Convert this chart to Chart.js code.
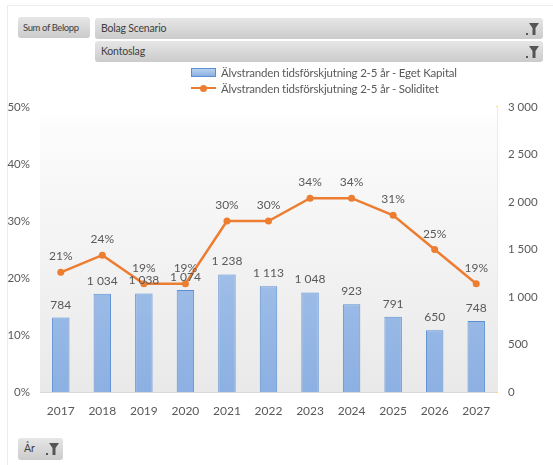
<!DOCTYPE html>
<html>
<head>
<meta charset="utf-8">
<script src="https://cdn.jsdelivr.net/npm/chart.js@4.4.1/dist/chart.umd.min.js"></script>
<style>
  body { margin: 0; background: #fff; font-family: Lato, "Open Sans", sans-serif; }
  #wrap { position: relative; width: 553px; height: 465px; overflow: hidden; }
  #grafico { position: absolute; left: 0; top: 0; }
  .ram { position: absolute; border-left: 1px solid #ececec; left: 7px; top: 5px; width: 546px; height: 470px; border-top: 1px solid #ececec; }
  .knapp {
    position: absolute; box-sizing: border-box; border-radius: 3px;
    background: linear-gradient(#e6e6e6, #cbcbcb); color: #3f3f3f;
    font-size: 10.5px; line-height: 21px; padding-left: 6px; white-space: nowrap; letter-spacing: -0.2px;
  }
  .knapp svg { position: absolute; right: 4px; top: 4px; }
  #legend { position: absolute; left: 191px; top: 65px; font-size: 11.5px; color: #595959; letter-spacing: -0.2px; }
  #legend div { height: 16px; line-height: 16px; position: relative; padding-left: 30px; }
  #legend span.ruta { position: absolute; left: 0; top: 3px; width: 25px; height: 9px; box-sizing: border-box; }
</style>
</head>
<body>
<div id="wrap">
  <div class="ram"></div>
  <canvas id="grafico" width="553" height="465"></canvas>
  <div class="knapp" style="left:18px;top:17px;width:72px;height:21px;font-size:9.5px;padding-left:5px;letter-spacing:-0.4px;">Sum of Belopp</div>
  <div class="knapp" style="left:95px;top:18px;width:448px;height:21px;">Bolag Scenario<svg width="13" height="14"><rect x="0" y="11" width="2" height="2" fill="#555"/><polygon points="3,1 13,1 9.5,6 9.5,13 6.5,13 6.5,6" fill="#555"/></svg></div>
  <div class="knapp" style="left:95px;top:41px;width:448px;height:21px;">Kontoslag<svg width="13" height="14"><rect x="0" y="11" width="2" height="2" fill="#555"/><polygon points="3,1 13,1 9.5,6 9.5,13 6.5,13 6.5,6" fill="#555"/></svg></div>
  <div id="legend"></div>
  <div class="knapp" style="left:18px;top:438px;width:45px;height:22px;">År<svg width="13" height="14"><rect x="0" y="11" width="2" height="2" fill="#555"/><polygon points="3,1 13,1 9.5,6 9.5,13 6.5,13 6.5,6" fill="#555"/></svg></div>
</div>
<script>
// År på x-axeln
const ar = ["2017", "2018", "2019", "2020", "2021", "2022", "2023", "2024", "2025", "2026", "2027"];
// Eget Kapital (höger axel)
const egetKapital = [784, 1034, 1038, 1074, 1238, 1113, 1048, 923, 791, 650, 748];
// Soliditet i procent (vänster axel)
const soliditet = [21, 24, 19, 19, 30, 30, 34, 34, 31, 25, 19];

const namnKapital = "Älvstranden tidsförskjutning 2-5 år - Eget Kapital";
const namnSoliditet = "Älvstranden tidsförskjutning 2-5 år - Soliditet";

const gra = "#595959";
const orange = "#ed7d31";

// tusental med mellanslag, t.ex. 1 034
function tusen(v) {
    return String(v).replace(/\B(?=(\d{3})+(?!\d))/g, " ");
}

// Ljus gradient bakom ritytan
const bakgrund = {
    id: "bakgrund",
    beforeDatasetsDraw(chart) {
        const { ctx, chartArea: a } = chart;
        const g = ctx.createLinearGradient(0, a.top, 0, a.bottom);
        g.addColorStop(0, "#ffffff");
        g.addColorStop(0.1, "#fbfbfb");
        g.addColorStop(1, "#e9e9e9");
        ctx.save();
        ctx.fillStyle = g;
        ctx.fillRect(a.left, a.top, a.right - a.left, a.bottom - a.top);
        ctx.restore();
    }
};

// Värdeetiketter ovanför staplar och punkter
const etiketter = {
    id: "etiketter",
    afterDatasetsDraw(chart) {
        const ctx = chart.ctx;
        ctx.save();
        ctx.font = "12px Lato";
        ctx.fillStyle = gra;
        ctx.textAlign = "center";
        ctx.textBaseline = "alphabetic";
        chart.getDatasetMeta(1).data.forEach((el, i) => {
            ctx.fillText(tusen(egetKapital[i]), el.x, el.y - 9);
        });
        chart.getDatasetMeta(0).data.forEach((el, i) => {
            ctx.fillText(soliditet[i] + "%", el.x, el.y - 12);
        });
        ctx.restore();
    }
};

function stapelFarg(context) {
    const a = context.chart.chartArea;
    if (!a) return "#9dbde8";
    const g = context.chart.ctx.createLinearGradient(0, a.top, 0, a.bottom);
    g.addColorStop(0, "#b9d1f0");
    g.addColorStop(1, "#8cb0e2");
    return g;
}

const ctx = document.getElementById("grafico").getContext("2d");
const grafico = new Chart(ctx, {
    type: "bar",
    data: {
        labels: ar,
        datasets: [
            {
                type: "line",
                label: namnSoliditet,
                data: soliditet,
                yAxisID: "y",
                borderColor: orange,
                backgroundColor: orange,
                borderWidth: 2.5,
                pointRadius: 3.5,
                pointBackgroundColor: orange,
                pointBorderWidth: 0,
                tension: 0,
                order: 0,
            },
            {
                type: "bar",
                label: namnKapital,
                data: egetKapital,
                yAxisID: "y1",
                backgroundColor: stapelFarg,
                borderColor: "#5b8fd3",
                borderWidth: 1,
                borderSkipped: "bottom",
                categoryPercentage: 1,
                barPercentage: 0.42,
                order: 1,
            },
        ],
    },
    options: {
        responsive: false,
        animation: false,
        layout: { padding: { top: 107, bottom: 43, left: 0, right: 0 } },
        plugins: {
            legend: { display: false },
            tooltip: { enabled: false },
        },
        scales: {
            x: {
                grid: { display: false, drawTicks: false },
                border: { color: "#d9d9d9" },
                ticks: { color: gra, font: { family: "Lato", size: 12 }, padding: 12 },
                afterFit(s) { s.height = 30; },
            },
            y: {
                position: "left",
                min: 0,
                max: 50,
                grid: { display: false, drawTicks: false },
                border: { display: false },
                ticks: {
                    stepSize: 10,
                    color: gra,
                    font: { family: "Lato", size: 11.5 },
                    padding: 10,
                    callback: (v) => v + "%",
                },
                afterFit(s) { s.width = 40; },
            },
            y1: {
                position: "right",
                min: 0,
                max: 3000,
                grid: { display: false, drawTicks: false },
                border: { color: "#ffd966", width: 1.5 },
                ticks: {
                    stepSize: 500,
                    color: gra,
                    font: { family: "Lato", size: 11.5 },
                    padding: 11,
                    callback: (v) => tusen(v),
                },
                afterFit(s) { s.width = 56; },
            },
        },
    },
    plugins: [bakgrund, etiketter],
});

// Förklaring byggd från dataseten
const legend = document.getElementById("legend");
[grafico.data.datasets[1], grafico.data.datasets[0]].forEach((ds) => {
    const rad = document.createElement("div");
    const ruta = document.createElement("span");
    ruta.className = "ruta";
    if (ds.type === "bar") {
        ruta.style.background = "linear-gradient(#b9d1f0, #8cb0e2)";
        ruta.style.border = "1px solid " + ds.borderColor;
    } else {
        ruta.style.background = "linear-gradient(transparent 3px, " + ds.borderColor + " 3px, " + ds.borderColor + " 5.5px, transparent 5.5px)";
        const prick = document.createElement("span");
        prick.style.cssText = "position:absolute;left:9px;top:1px;width:7px;height:7px;border-radius:50%;background:" + ds.borderColor;
        ruta.appendChild(prick);
    }
    rad.appendChild(ruta);
    rad.appendChild(document.createTextNode(ds.label));
    legend.appendChild(rad);
});
</script>
</body>
</html>
